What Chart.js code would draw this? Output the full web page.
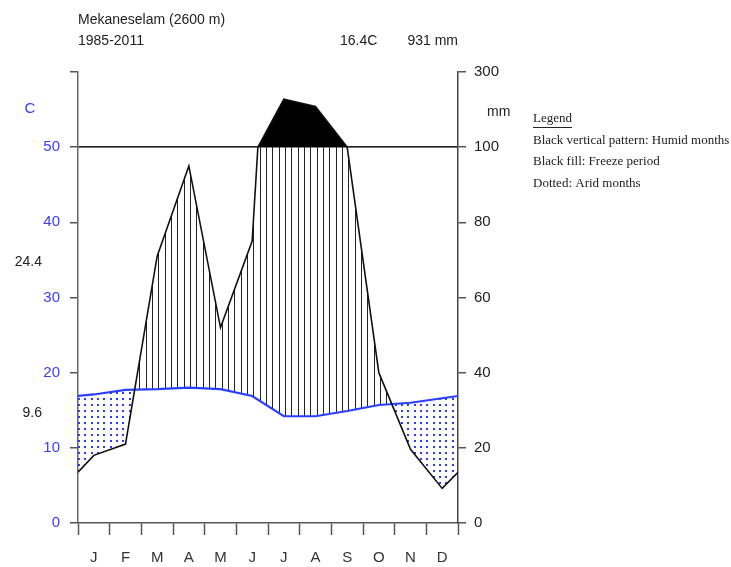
<!DOCTYPE html>
<html>
<head>
<meta charset="utf-8">
<script src="https://cdn.jsdelivr.net/npm/chart.js@4"></script>
<style>
  body { margin: 0; background: #fff; }
  #wrap { width: 731px; height: 567px; }
</style>
</head>
<body>
<div id="wrap"><canvas id="c" width="731" height="567"></canvas></div>
<script>
// Walter-Lieth diagram, Mekaneselam

const months = ['J', 'F', 'M', 'A', 'M', 'J', 'J', 'A', 'S', 'O', 'N', 'D'];
const tempC = [17.1, 17.7, 17.8, 18.0, 17.8, 16.9, 14.2, 14.2, 14.9, 15.7, 16.0, 16.6];
const rainMm = [18, 21, 71, 95, 52, 75, 228, 208, 100, 40, 19.6, 9.2];
// values drawn at the year edges (1 Jan / 31 Dec)
const tempEdge = 16.9;
const rainEdge = 13.5;
// where the rain curve breaks at 100 mm between Jun and Jul
const rainBreak = { x: 5.68, y: 100 };

const tempTicks = [0, 10, 20, 30, 40, 50, 60];
const rainTicks = [0, 20, 40, 60, 80, 100, 300];
const monthTicks = [0, 1, 2, 3, 4, 5, 6, 7, 8, 9, 10, 11, 12];

const BLUE = '#3a3cff';

// rain axis: 2 mm per degree up to 100 mm, 20 mm per degree above
class RainScale extends Chart.LinearScale {
    determineDataLimits() { this.min = 0; this.max = 300; }
    buildTicks() { return rainTicks.map(v => ({ value: v })); }
    getPixelForValue(v) {
        const t = v <= 100 ? v / 2 : 50 + (v - 100) / 20;
        return this.getPixelForDecimal(t / 60);
    }
    getValueForPixel(p) {
        const t = this.getDecimalForPixel(p) * 60;
        return t <= 50 ? t * 2 : 100 + (t - 50) * 20;
    }
}
RainScale.id = 'rain';
RainScale.defaults = Chart.LinearScale.defaults;
Chart.register(RainScale);

function monthPoints(values, edge) {
    const pts = [{ x: 0, y: edge }];
    values.forEach((v, i) => pts.push({ x: i + 0.5, y: v }));
    pts.push({ x: 12, y: edge });
    return pts;
}

const tempPts = monthPoints(tempC, tempEdge);
const rainPts = monthPoints(rainMm, rainEdge);
rainPts.push(rainBreak);
rainPts.sort((a, b) => a.x - b.x);

// patterns
function makeHatch() {
    const c = document.createElement('canvas');
    c.width = 19; c.height = 4;
    const g = c.getContext('2d');
    g.fillStyle = '#222';
    [0, 6, 13].forEach(x => g.fillRect(x, 0, 1, 4));
    return g.createPattern(c, 'repeat');
}
function makeDots() {
    const c = document.createElement('canvas');
    c.width = 19; c.height = 6;
    const g = c.getContext('2d');
    g.fillStyle = '#2a3cff';
    [2, 8, 15].forEach(x => g.fillRect(x, 2, 2, 2));
    return g.createPattern(c, 'repeat');
}

// texts around the plot
const textPlugin = {
    id: 'texts',
    afterDraw(chart) {
        const ctx = chart.ctx;
        ctx.save();
        ctx.textBaseline = 'middle';
        ctx.font = '14px "Liberation Sans", Arial, sans-serif';
        ctx.fillStyle = '#222';
        ctx.textAlign = 'left';
        ctx.fillText('Mekaneselam (2600 m)', 78, 20);
        ctx.fillText('1985-2011', 78, 41);
        ctx.fillText('16.4C', 340, 41);
        ctx.textAlign = 'right';
        ctx.fillText('931 mm', 458, 41);
        ctx.fillText('24.4', 42, 262);
        ctx.fillText('9.6', 42, 413);
        ctx.textAlign = 'left';
        ctx.fillText('mm', 487, 112);
        ctx.fillStyle = BLUE;
        ctx.textAlign = 'center';
        ctx.font = '15px "Liberation Sans", Arial, sans-serif';
        ctx.fillText('C', 30, 109);

        // legend
        ctx.fillStyle = '#222';
        ctx.textAlign = 'left';
        ctx.font = '13px "Liberation Serif", "Times New Roman", serif';
        ctx.fillText('Legend', 533, 119);
        const w = ctx.measureText('Legend').width;
        ctx.fillRect(533, 127, w, 1);
        ctx.fillText('Black vertical pattern: Humid months', 533, 141);
        ctx.fillText('Black fill: Freeze period', 533, 162);
        ctx.fillText('Dotted: Arid months', 533, 184);
        ctx.restore();
    }
};

Chart.defaults.font.family = '"Liberation Sans", Arial, sans-serif';
Chart.defaults.font.size = 14;

new Chart(document.getElementById('c'), {
    type: 'line',
    data: {
        datasets: [
            {   // rain curve
                data: rainPts, yAxisID: 'yRain',
                borderColor: '#111', borderWidth: 1.6,
                pointRadius: 0, fill: false
            },
            {   // above 100 mm
                data: rainPts, yAxisID: 'yRain',
                borderColor: 'rgba(0,0,0,0)', borderWidth: 0, pointRadius: 0,
                fill: { target: { value: 100 }, above: '#000', below: 'rgba(0,0,0,0)' }
            },
            {   // temperature curve
                data: tempPts, yAxisID: 'yTemp',
                borderColor: '#2a3fff', borderWidth: 2.2,
                pointRadius: 0, fill: false
            },
            {   // humid / arid areas
                data: rainPts, yAxisID: 'yRain',
                borderColor: 'rgba(0,0,0,0)', borderWidth: 0, pointRadius: 0,
                fill: { target: 2, above: makeHatch(), below: makeDots() }
            }
        ]
    },
    options: {
        responsive: false,
        animation: false,
        layout: { padding: { top: 72, left: 0, right: 0, bottom: 0 } },
        plugins: { legend: { display: false }, tooltip: { enabled: false } },
        elements: { line: { tension: 0 } },
        scales: {
            x: {
                type: 'linear', position: 'bottom', min: 0, max: 12, weight: 0,
                afterBuildTicks: s => { s.ticks = monthTicks.map(v => ({ value: v })); },
                afterFit: s => { s.height = 12; },
                ticks: { autoSkip: false, callback: () => '' },
                grid: { drawOnChartArea: false, tickLength: 12, tickColor: '#555', tickWidth: 1.5 },
                border: { color: '#555', width: 1.5 }
            },
            x2: {
                type: 'linear', position: 'bottom', min: 0, max: 12, weight: 1,
                afterBuildTicks: s => { s.ticks = months.map((m, i) => ({ value: i + 0.5 })); },
                afterFit: s => { s.height = 32; },
                ticks: { autoSkip: false, maxRotation: 0, padding: 14, color: '#333',
                         font: { size: 15 }, callback: (v, i) => months[i] },
                grid: { display: false, drawTicks: false },
                border: { display: false }
            },
            yTemp: {
                type: 'linear', position: 'left', min: 0, max: 60,
                afterBuildTicks: s => { s.ticks = tempTicks.map(v => ({ value: v })); },
                afterFit: s => { s.width = 78; },
                ticks: { color: BLUE, padding: 10, font: { size: 15 },
                         callback: v => (v === 60 ? '' : v) },
                grid: {
                    color: c => (c.tick && c.tick.value === 50 ? '#222' : 'rgba(0,0,0,0)'),
                    lineWidth: 1.5,
                    tickColor: '#555', tickLength: 8
                },
                border: { color: '#666', width: 1.5 }
            },
            yRain: {
                type: 'rain', position: 'right',
                afterFit: s => { s.width = 273; },
                ticks: { color: '#222', padding: 8, font: { size: 15 }, callback: v => v },
                grid: { drawOnChartArea: false, tickColor: '#555', tickLength: 8, lineWidth: 1.5 },
                border: { color: '#444', width: 1.5 }
            }
        }
    },
    plugins: [textPlugin]
});
</script>
</body>
</html>
